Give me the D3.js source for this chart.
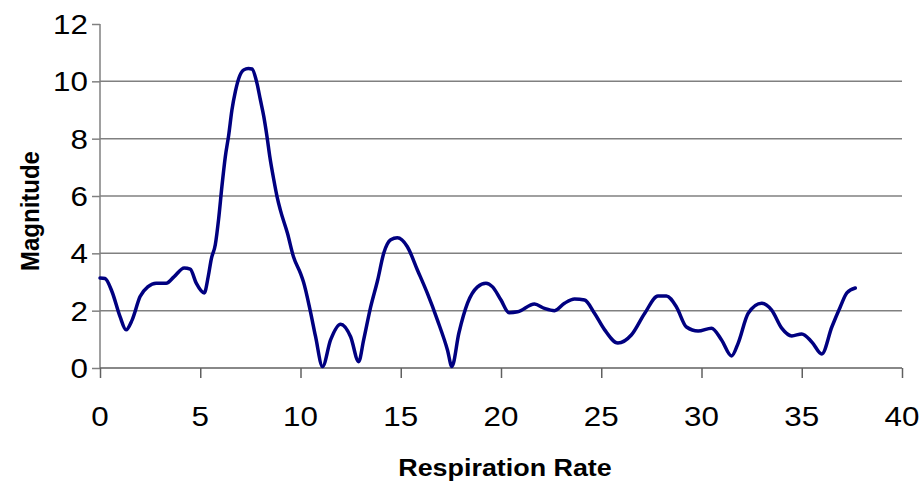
<!DOCTYPE html>
<html>
<head>
<meta charset="utf-8">
<script src="https://cdn.jsdelivr.net/npm/d3@7"></script>
<style>
html,body{margin:0;padding:0;background:#fff;}
svg{display:block;}
text{font-family:"Liberation Sans",Arial,sans-serif;fill:#000;}
</style>
</head>
<body>
<svg id="chart" width="923" height="492"></svg>
<script>
const rates = [0,0.25,0.6,1.0,1.3,1.6,2.0,2.4,2.8,3.3,3.7,4.2,4.5,4.8,5.2,5.4,5.55,5.75,5.92,6.08,6.25,6.42,6.58,6.75,6.92,7.17,7.4,7.58,7.83,8.0,8.17,8.33,8.47,8.67,8.83,9.0,9.35,9.65,10.0,10.15,10.5,10.75,11.1,11.5,12.0,12.5,12.9,13.15,13.5,13.85,14.15,14.5,14.83,15.33,15.83,16.33,16.83,17.33,17.55,17.9,18.33,18.83,19.25,19.58,20.0,20.4,20.83,21.67,22.17,22.67,23.17,23.67,24.17,24.67,25.17,25.83,26.5,27.17,27.83,28.25,28.75,29.25,29.83,30.5,31.0,31.5,31.83,32.33,33.0,33.5,34.0,34.5,35.0,35.5,36.0,36.5,36.92,37.25,37.67];
const magnitudes = [3.14,3.12,2.66,1.79,1.33,1.67,2.49,2.84,2.96,2.96,3.19,3.49,3.45,2.96,2.62,3.2,3.8,4.3,5.22,6.33,7.37,8.13,9.0,9.64,10.1,10.4,10.45,10.43,9.93,9.35,8.77,8.07,7.37,6.56,5.98,5.5,4.7,3.88,3.3,3.0,1.95,1.1,0.05,0.98,1.53,1.09,0.22,0.98,2.13,3.07,4.0,4.47,4.54,4.23,3.42,2.6,1.67,0.63,0.05,1.22,2.26,2.83,2.96,2.83,2.37,1.93,1.96,2.23,2.08,2.0,2.26,2.41,2.37,1.9,1.33,0.87,1.15,1.91,2.51,2.51,2.13,1.43,1.29,1.39,0.98,0.42,0.87,1.91,2.26,2.02,1.39,1.12,1.19,0.91,0.49,1.43,2.13,2.62,2.79];
const xTicks = [0,5,10,15,20,25,30,35,40];
const yTicks = [0,2,4,6,8,10,12];
const xTitle = "Respiration Rate";
const yTitle = "Magnitude";

(function () {
const svg = d3.select("#chart");
const pLeft = 100, pRight = 902, pTop = 24, pBottom = 368;
const SX = 1.12; // horizontal stretch of glyphs in the reference

const x = d3.scaleLinear().domain([0,40]).range([pLeft,pRight]);
const y = d3.scaleLinear().domain([0,12]).range([pBottom,pTop]);

// gridlines
svg.append("g").selectAll("line")
  .data(yTicks.filter(d => d > 0 && d < 12))
  .join("line")
  .attr("x1", pLeft).attr("x2", pRight)
  .attr("y1", d => y(d)).attr("y2", d => y(d))
  .attr("stroke", "#808080").attr("stroke-width", 1.5);

// y axis
const yAxis = svg.append("g").attr("transform", `translate(${pLeft},0)`)
  .call(d3.axisLeft(y).tickValues(yTicks).tickSize(8).tickFormat(""));
yAxis.select(".domain").attr("stroke", "#808080").attr("stroke-width", 1.5).attr("d", `M0,${pTop}V${pBottom}`);
yAxis.selectAll(".tick line").attr("stroke", "#808080").attr("stroke-width", 1.5);

// x axis
const xAxis = svg.append("g").attr("transform", `translate(0,${pBottom})`)
  .call(d3.axisBottom(x).tickValues(xTicks).tickSize(10).tickFormat(""));
xAxis.select(".domain").attr("stroke", "#606060").attr("stroke-width", 1.5).attr("d", `M${pLeft},0H${pRight}`);
xAxis.selectAll(".tick line").attr("stroke", "#606060").attr("stroke-width", 1.5);

// y tick labels
svg.append("g").selectAll("text")
  .data(yTicks).join("text")
  .attr("transform", d => `translate(88,${y(d) + 10}) scale(${SX},1)`)
  .attr("text-anchor", "end")
  .attr("font-size", 28)
  .text(d => d);

// x tick labels
svg.append("g").selectAll("text")
  .data(xTicks).join("text")
  .attr("transform", d => `translate(${x(d)},426) scale(${SX},1)`)
  .attr("text-anchor", "middle")
  .attr("font-size", 28)
  .text(d => d);

// axis titles
svg.append("text")
  .attr("transform", `translate(505,476) scale(${SX},1)`)
  .attr("text-anchor", "middle")
  .attr("font-size", 24).attr("font-weight", "bold")
  .text(xTitle);

svg.append("text")
  .attr("transform", `translate(39,211) scale(1.1,1) rotate(-90)`)
  .attr("text-anchor", "middle")
  .attr("font-size", 24).attr("font-weight", "bold")
  .text(yTitle);

// line
const pts = rates.map((r, i) => [r, magnitudes[i]]);
const line = d3.line().x(d => x(d[0])).y(d => y(d[1])).curve(d3.curveMonotoneX);
svg.append("path")
  .datum(pts)
  .attr("d", line)
  .attr("fill", "none")
  .attr("stroke", "#000080")
  .attr("stroke-width", 3.5)
  .attr("stroke-linejoin", "round")
  .attr("stroke-linecap", "round");
})();
</script>
</body>
</html>
